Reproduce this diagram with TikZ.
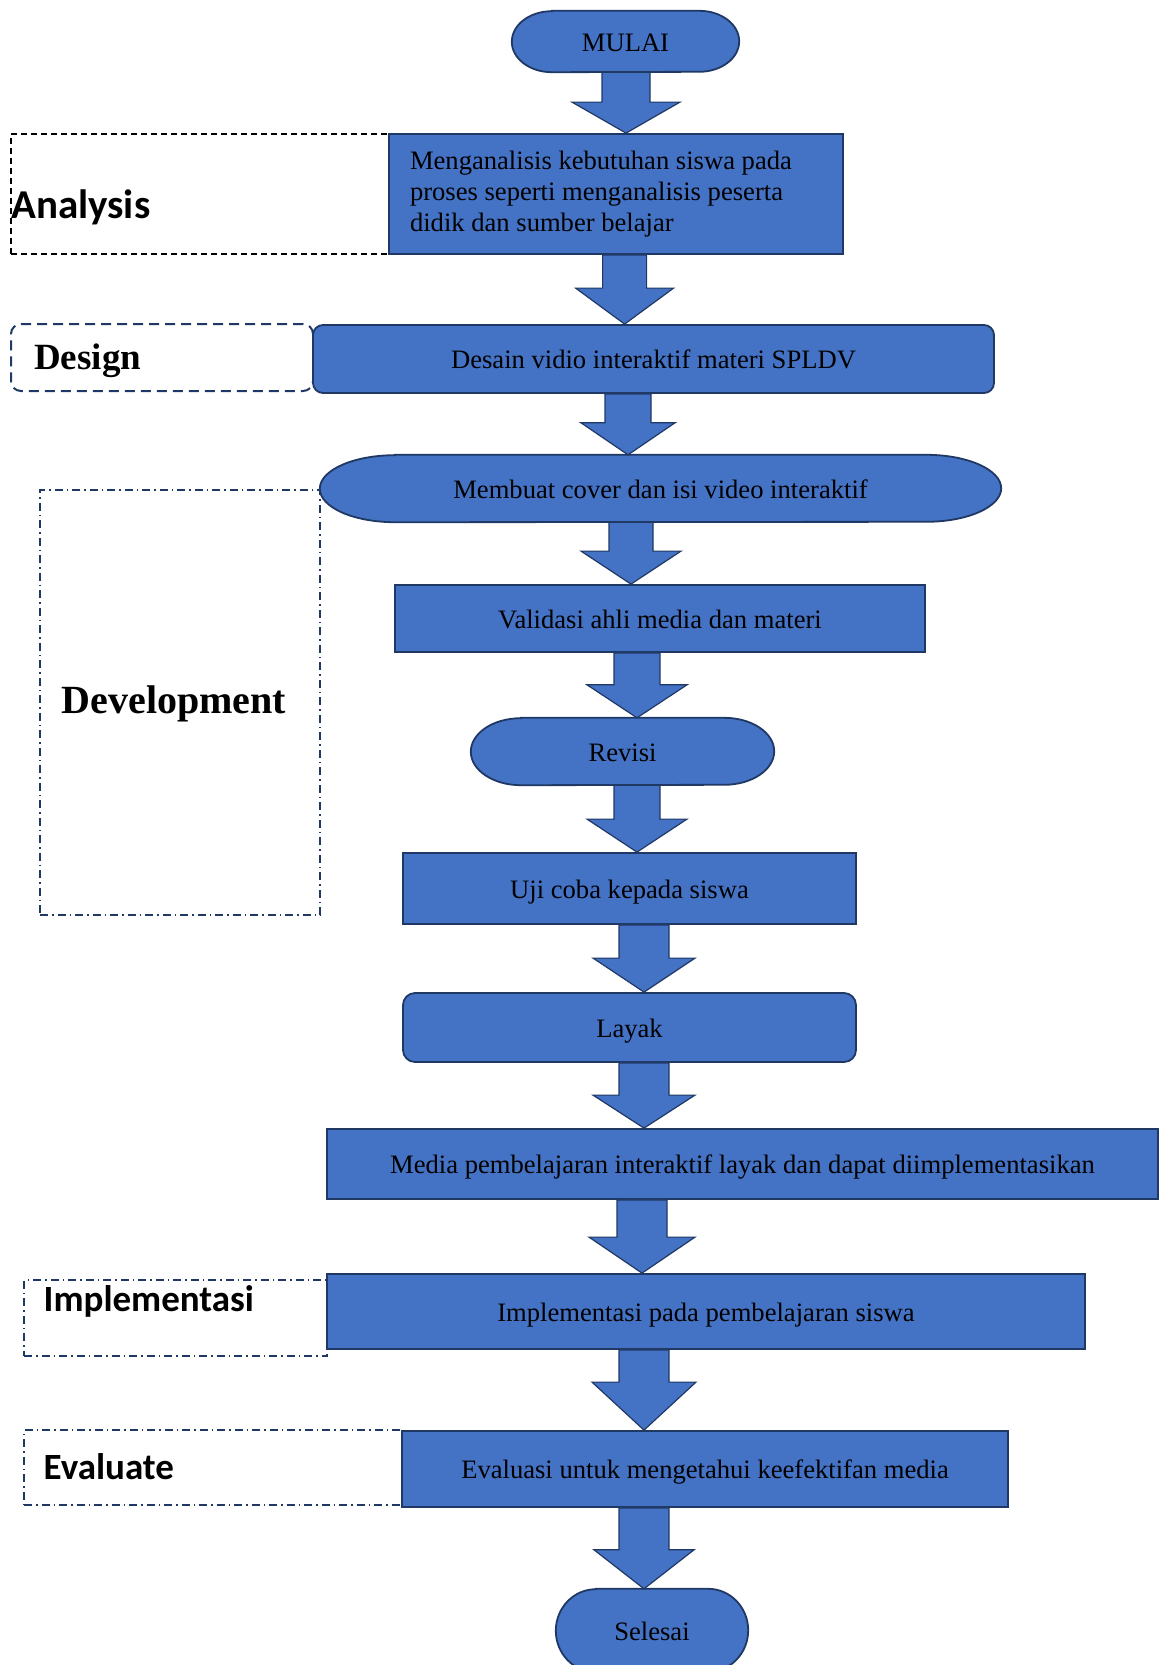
\documentclass[tikz,border=0pt]{standalone}
\usepackage{fontspec}
\setmainfont{Liberation Serif}
\newfontfamily\calibrifont{Carlito}
\usepackage{tikz}
\usetikzlibrary{calc,backgrounds}

\definecolor{flowblue}{HTML}{4472C4}
\definecolor{flowedge}{HTML}{203864}

\tikzset{
  box/.style={draw=flowedge, fill=flowblue, line width=1.8pt, inner sep=0pt,
    font=\fontsize{26.6}{31}\selectfont},
  lowered/.style={text height=24pt, text depth=5pt},
  capsuletext/.style={inner sep=0pt, lowered, font=\fontsize{26.6}{31}\selectfont},
  capsuleline/.style={draw=flowedge, fill=flowblue, line width=1.8pt},
  downarrow/.style={draw=flowedge, fill=flowblue, line width=1.2pt, line join=miter},
  frame/.style={line width=1.5pt, inner sep=0pt},
  phaselabel/.style={anchor=west, inner sep=0pt},
}

% capsule outline round a text node: name, end x radius, end y radius
\newcommand{\capsule}[3]{%
  \draw[capsuleline] ([xshift=#2]#1.north west) -- ([xshift=-#2]#1.north east)
    arc[start angle=90, end angle=-90, x radius=#2, y radius=#3]
    -- ([xshift=#2]#1.south west)
    arc[start angle=270, end angle=90, x radius=#2, y radius=#3] -- cycle;}

% block arrow: from, to, axis x, shaft half width, head half width, head length
\newcommand{\flowarrow}[6]{%
  \path[downarrow] let \p1=(#1.south), \p2=(#2.north) in
    (#3pt-#4pt,\y1) -- (#3pt-#4pt,\y2+#6pt) -- (#3pt-#5pt,\y2+#6pt) -- (#3pt,\y2)
    -- (#3pt+#5pt,\y2+#6pt) -- (#3pt+#4pt,\y2+#6pt) -- (#3pt+#4pt,\y1) -- cycle;}

\begin{document}
\begin{tikzpicture}[x=1pt,y=-1pt]
\useasboundingbox (0,0) rectangle (1160,1665);

% phase frames
\node[frame, draw=black, dash pattern=on 6pt off 4pt, minimum width=378pt, minimum height=120pt] (analysisframe) at (200,194) {};
\node[frame, draw=flowedge, line width=2pt, rounded corners=10pt, dash pattern=on 10pt off 6pt, minimum width=302pt, minimum height=67pt] (designframe) at (162,357.5) {};
\node[frame, draw=flowedge, dash pattern=on 8pt off 4pt on 1.5pt off 4pt, minimum width=280pt, minimum height=425pt] (developframe) at (180,702.5) {};
\node[frame, draw=flowedge, dash pattern=on 8pt off 4pt on 1.5pt off 4pt, minimum width=303pt, minimum height=76pt] (implframe) at (175.5,1318) {};
\node[frame, draw=flowedge, dash pattern=on 8pt off 4pt on 1.5pt off 4pt, minimum width=378pt, minimum height=75pt] (evalframe) at (213,1467.5) {};

\node[phaselabel, font=\calibrifont\bfseries\fontsize{41}{44}\selectfont] (analysislabel) at (11,207) {Analysis};
\node[phaselabel, font=\bfseries\fontsize{37}{40}\selectfont] (designlabel) at (34,361) {Design};
\node[phaselabel, font=\bfseries\fontsize{40}{44}\selectfont] (developlabel) at (61.6,704) {Development};
\node[phaselabel, font=\calibrifont\bfseries\fontsize{37}{40}\selectfont] (impllabel) at (43.5,1301) {Implementasi};
\node[phaselabel, font=\calibrifont\bfseries\fontsize{37}{40}\selectfont] (evallabel) at (43.5,1467) {Evaluate};

% flow steps
\node[capsuletext, minimum width=227pt, minimum height=61pt] (mulai) at (625.5,41.5) {MULAI};
\node[box, minimum width=454pt, minimum height=120pt, text width=412pt, align=flush left, inner xsep=21pt] (analisis) at (616,194)
  {Menganalisis kebutuhan siswa pada\\proses seperti menganalisis peserta\\didik dan sumber belajar};
\node[box, lowered, rounded corners=10pt, minimum width=681pt, minimum height=68pt] (desain) at (653.5,359) {Desain vidio interaktif materi SPLDV};
\node[capsuletext, minimum width=681pt, minimum height=67pt] (membuat) at (660.5,488.5) {Membuat cover dan isi video interaktif};
\node[box, lowered, minimum width=530pt, minimum height=67pt] (validasi) at (660,618.5) {Validasi ahli media dan materi};
\node[capsuletext, minimum width=303pt, minimum height=67pt] (revisi) at (622.5,751.5) {Revisi};
\node[box, lowered, minimum width=453pt, minimum height=71pt] (ujicoba) at (629.5,888.5) {Uji coba kepada siswa};
\node[box, lowered, rounded corners=12pt, minimum width=453pt, minimum height=69pt] (layak) at (629.5,1027.5) {Layak};
\node[box, lowered, minimum width=831pt, minimum height=70pt] (media) at (742.5,1164) {Media pembelajaran interaktif layak dan dapat diimplementasikan};
\node[box, lowered, minimum width=758pt, minimum height=75pt] (implementasi) at (706,1311.5) {Implementasi pada pembelajaran siswa};
\node[box, lowered, minimum width=606pt, minimum height=76pt] (evaluasi) at (705,1469) {Evaluasi untuk mengetahui keefektifan media};
\node[capsuletext, minimum width=192pt, minimum height=83pt] (selesai) at (652,1630.5) {Selesai};

\begin{scope}[on background layer]
\capsule{mulai}{40pt}{30.5pt}
\capsule{membuat}{75pt}{33.5pt}
\capsule{revisi}{50pt}{33.5pt}
\capsule{selesai}{40pt}{41.5pt}
\end{scope}

% arrows
\flowarrow{mulai}{analisis}{626}{24}{54}{31}
\flowarrow{analisis}{desain}{624.6}{22}{49}{36}
\flowarrow{desain}{membuat}{628}{23}{47}{32}
\flowarrow{membuat}{validasi}{631}{22}{50}{33}
\flowarrow{validasi}{revisi}{637}{23}{50}{33}
\flowarrow{revisi}{ujicoba}{637}{23}{50}{33}
\flowarrow{ujicoba}{layak}{644}{25}{51}{34}
\flowarrow{layak}{media}{644}{25}{51}{33}
\flowarrow{media}{implementasi}{642}{25}{53}{36}
\flowarrow{implementasi}{evaluasi}{644}{25}{52}{48}
\flowarrow{evaluasi}{selesai}{644}{25}{50}{39}
\end{tikzpicture}
\end{document}
